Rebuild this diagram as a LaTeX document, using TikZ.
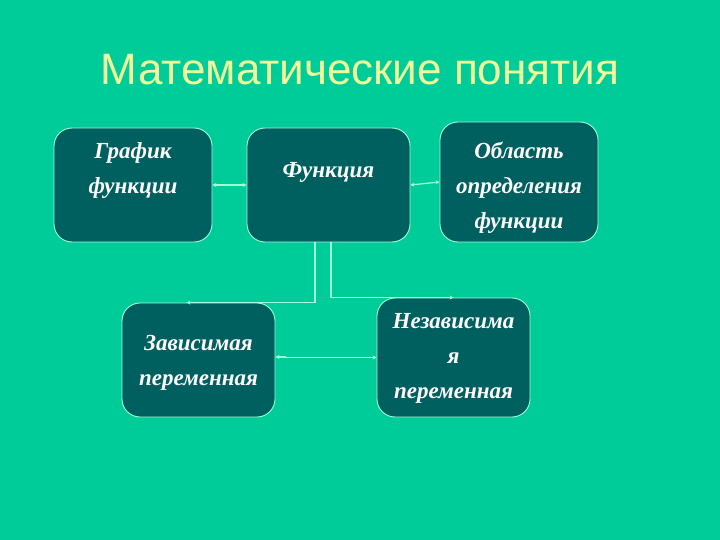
\documentclass[tikz,border=0pt]{standalone}
\usepackage{fontspec}
\setmainfont{Liberation Serif}
\setsansfont{Liberation Sans}
\usetikzlibrary{arrows.meta}
\definecolor{bgGreen}{HTML}{00CC99}
\definecolor{boxTeal}{HTML}{006060}
\definecolor{lineMint}{HTML}{A0FFD8}
\definecolor{titleYellow}{HTML}{F0FF99}
\tikzset{
	box/.style={draw=lineMint,line width=0.9pt,fill=boxTeal,rounded corners=18pt},
	boxtext/.style={text=white,font=\fontsize{23}{35}\selectfont\bfseries\itshape,align=center},
	conn/.style={draw=lineMint,line width=1.2pt,-{Stealth[length=4pt,width=4pt]}},
	twoway/.style={conn,{Stealth[length=4pt,width=4pt]}-{Stealth[length=4pt,width=4pt]}}
}
\begin{document}
\begin{tikzpicture}[x=1pt,y=-1pt]
	\fill[bgGreen] (0,0) rectangle (720,540);
	\useasboundingbox (0,0) rectangle (720,540);
	\node[text=titleYellow,font=\sffamily\fontsize{44}{48}\selectfont] (title) at (360,70) {Математические понятия};
	% boxes
	\node[box,minimum width=158pt,minimum height=114pt] (graph) at (133,185) {};
	\node[box,minimum width=163pt,minimum height=114pt] (fun) at (328.5,185) {};
	\node[box,minimum width=158pt,minimum height=120pt] (dom) at (519,182) {};
	\node[box,minimum width=153pt,minimum height=114pt] (dep) at (198.5,360) {};
	\node[box,minimum width=153pt,minimum height=119pt] (indep) at (453.5,357.5) {};
	% texts
	\node[boxtext] (graphtext) at (133,171) {График\\функции};
	\node[boxtext] (funtext) at (328.5,172) {Функция};
	\node[boxtext] (domtext) at (519,188) {Область\\определения\\функции};
	\node[boxtext] (deptext) at (198.5,363) {Зависимая\\переменная};
	\node[boxtext] (indeptext) at (453.5,358) {Независима\\я\\переменная};
	% connectors
	\draw[twoway] (graph) -- (fun);
	\draw[twoway] (fun.east) -- (dom.west);
	\draw[conn] ([xshift=-13.5pt]fun.south) |- ([xshift=-12pt]dep.north);
	\draw[conn] ([xshift=2.5pt]fun.south) |- (indep.north);
	\draw[twoway] ([yshift=3pt]dep.east) -- ++(10,0) |- (indep.west);
\end{tikzpicture}
\end{document}
